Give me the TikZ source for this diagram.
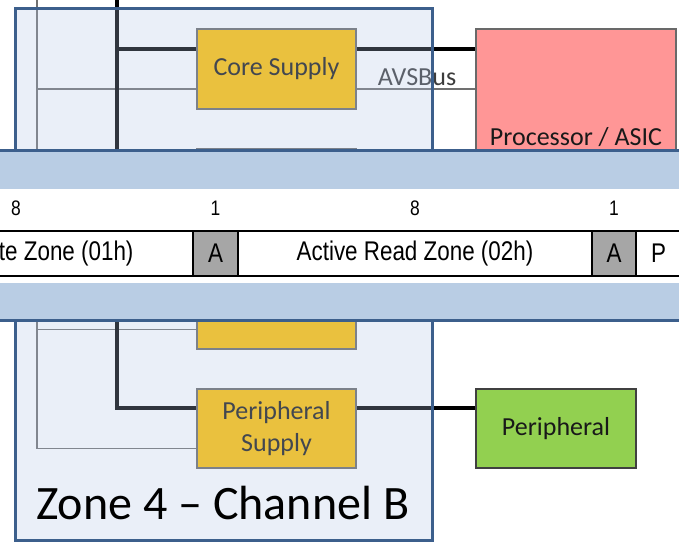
\documentclass[tikz,border=0pt]{standalone}
\usepackage{fontspec}
\setmainfont{Carlito}
\newfontfamily\arialish{Liberation Sans}
\newcommand{\narrowtxt}[1]{\scalebox{0.83}[1]{#1}}
\usetikzlibrary{calc}
\definecolor{zoneb}{RGB}{60,95,140}
\definecolor{zoneover}{RGB}{178,196,230}
\definecolor{bandblue}{RGB}{185,205,228}
\definecolor{supyellow}{RGB}{255,192,0}
\definecolor{procpink}{RGB}{255,150,150}
\definecolor{pergreen}{RGB}{146,208,80}
\definecolor{cellgray}{RGB}{166,166,166}
\definecolor{boxline}{RGB}{105,105,105}
\definecolor{thinline}{RGB}{112,112,112}
\definecolor{boxtext}{RGB}{25,25,25}
\definecolor{avstext}{RGB}{60,60,60}
\tikzset{
  box/.style={draw=boxline, line width=1.2pt, inner sep=0pt, text=boxtext,
    align=center, font=\fontsize{26}{32}\selectfont},
  thickln/.style={line width=4pt, black},
  thinln/.style={line width=1.8pt, thinline},
  cell/.style={draw=black, line width=1.5pt, inner sep=0pt, minimum height=45pt,
    font=\arialish\fontsize{27}{30}\selectfont},
  num/.style={inner sep=0pt, font=\arialish\fontsize{21}{24}\selectfont},
}
\begin{document}
\begin{tikzpicture}[x=1pt,y=-1pt]
\useasboundingbox (0,0) rectangle (679,542);
\clip (0,0) rectangle (679,542);
\fill[white] (0,0) rectangle (679,542);

% connector anchor points (box geometry)
\coordinate (tT) at (117,-5);
\coordinate (tG) at (37,-5);
\path (276.5,69) coordinate (csc) (276.5,249) coordinate (hsc) (276.5,428.5) coordinate (psc)
      (556,428.5) coordinate (perc) (576,137) coordinate (procc);

% connectors drawn first, boxes on top
\node[box, fill=supyellow, minimum width=159pt, minimum height=80pt] (cs) at (csc) {};
\node[box, fill=supyellow, minimum width=159pt, minimum height=200pt] (hs) at (hsc) {};
\node[box, fill=supyellow, minimum width=159pt, minimum height=79pt] (ps) at (psc) {};
\node[box, fill=pergreen, minimum width=160pt, minimum height=79pt] (per) at (perc) {};
\node[box, fill=procpink, minimum width=200pt, minimum height=216pt] (proc) at (procc) {};

\coordinate (csA) at ($(cs.north west)!0.25!(cs.south west)$);
\coordinate (csB) at ($(cs.north west)!0.75!(cs.south west)$);
\coordinate (csC) at ($(cs.north east)!0.25!(cs.south east)$);
\coordinate (csD) at ($(cs.north east)!0.75!(cs.south east)$);
\coordinate (hsB) at ($(hs.north west)!0.9!(hs.south west)$);
\coordinate (psA) at ($(ps.north west)!0.25!(ps.south west)$);
\coordinate (psB) at ($(ps.north west)!0.75!(ps.south west)$);
\coordinate (psC) at ($(ps.north east)!0.25!(ps.south east)$);

\draw[thinln] (tG) |- (psB);
\draw[thinln] (csB -| tG) -- (csB);
\draw[thinln] (hsB -| tG) -- (hsB);
\draw[thickln] (tT) |- (psA);
\draw[thickln] (csA -| tT) -- (csA);
\draw[thickln] (csC) -- (csC -| proc.west);
\draw[thinln] (csD) -- (csD -| proc.west);
\draw[thickln] (psC) -- (psC -| per.west);

% boxes over connector ends
\node[box, fill=supyellow, minimum width=159pt, minimum height=80pt] at (csc) {Core Supply};
\node[box, fill=supyellow, minimum width=159pt, minimum height=200pt] at (hsc) {};
\node[box, fill=supyellow, minimum width=159pt, minimum height=79pt] at (psc) {Peripheral\\Supply};
\node[box, fill=pergreen, draw=black!75, minimum width=160pt, minimum height=79pt] at (perc) {Peripheral};
\node[box, fill=procpink, minimum width=200pt, minimum height=216pt] at (procc) {Processor / ASIC};

\node[anchor=base, inner sep=0pt, text=avstext, font=\fontsize{26}{30}\selectfont] (avs) at (417,85) {AVSBus};

% zone overlay
\node[draw=zoneb, line width=3pt, fill=zoneover, fill opacity=0.27, inner sep=0pt,
  minimum width=417pt, minimum height=532pt] (zone) at (223.5,274) {};
\node[anchor=base west, inner sep=0pt, font=\fontsize{48}{56}\selectfont] (ztitle) at (36,519) {Zone 4 – Channel B};

% inset band
\node[fill=bandblue, inner sep=0pt, minimum width=700pt, minimum height=169pt] (band) at (339.5,235.5) {};
\draw[zoneb, line width=3pt] (band.north west) -- (band.north east);
\draw[zoneb, line width=3pt] (band.south west) -- (band.south east);
\node[fill=white, inner sep=0pt, minimum width=700pt, minimum height=94pt] (strip) at (339.5,236) {};

\node[cell, minimum width=354pt] (c1) at (16,253.5) {\narrowtxt{Active Write Zone (01h)}};
\node[cell, minimum width=45pt, fill=cellgray] (c2) at (215.5,253.5) {\narrowtxt{A}};
\node[cell, minimum width=354pt] (c3) at (415,253.5) {\narrowtxt{Active Read Zone (02h)}};
\node[cell, minimum width=44pt, fill=cellgray] (c4) at (614,253.5) {\narrowtxt{A}};
\node[cell, minimum width=45pt] (c5) at (658.5,253.5) {\narrowtxt{P}};

\node[num] (n1) at (16,208) {\narrowtxt{8}};
\node[num] (n2) at (215.5,208) {\narrowtxt{1}};
\node[num] (n3) at (415,208) {\narrowtxt{8}};
\node[num] (n4) at (614,208) {\narrowtxt{1}};
\end{tikzpicture}
\end{document}
